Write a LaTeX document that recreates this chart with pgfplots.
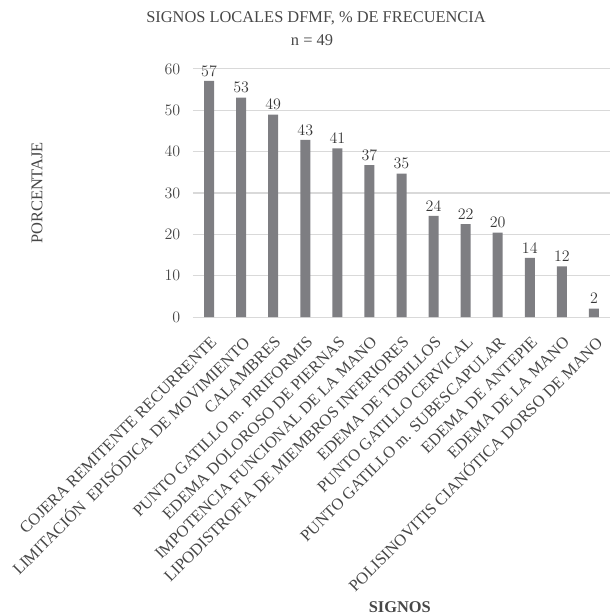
\documentclass[border=0pt]{standalone}
\usepackage{pgfplots}
\pgfplotsset{compat=1.18}
\usepackage{fontspec}
\setmainfont{Liberation Serif}
\definecolor{barcol}{RGB}{126,126,130}
\definecolor{gridcol}{RGB}{217,217,217}
\newcommand{\chartfont}{\fontsize{12.3}{14}\selectfont}
\begin{document}
\begin{tikzpicture}
% page = 609x616 px at 0.75pt/px, axis box south west at (0,0)
\path[use as bounding box] (-144.75pt,-224.25pt) rectangle (312pt,237.75pt);
\begin{axis}[
    at={(0pt,0pt)}, anchor=south west,
    scale only axis, width=312.75pt, height=186pt,
    ybar, bar width=7.5pt,
    xmin=-0.5, xmax=12.5, ymin=0, ymax=60,
    enlargelimits=false, clip=false,
    axis line style={draw=none},
    major tick length=0pt,
    ymajorgrids, grid style={gridcol, line width=0.75pt},
    ytick={0,10,...,60},
    xtick={0,...,12},
    xticklabels={
        COJERA REMITENTE RECURRENTE,
        LIMITACIÓN~ EPISÓDICA DE MOVIMIENTO,
        CALAMBRES,
        PUNTO GATILLO m. PIRIFORMIS,
        EDEMA DOLOROSO DE PIERNAS,
        IMPOTENCIA FUNCIONAL DE LA MANO,
        LIPODISTROFIA DE MIEMBROS INFERIORES,
        EDEMA DE TOBILLOS,
        PUNTO GATILLO CERVICAL,
        PUNTO GATILLO m. SUBESCAPULAR,
        EDEMA DE ANTEPIE,
        EDEMA DE LA MANO,
        POLISINOVITIS CIANÓTICA DORSO DE MANO},
    tick label style={font=\chartfont, color=black!72},
    yticklabel style={xshift=-6pt},
    xticklabel style={xshift=6pt, yshift=-14.5pt, rotate=45, anchor=east},
    xlabel={\bfseries SIGNOS},
    xlabel style={at={(axis description cs:0.496,-1.169)}, anchor=center,
        font=\chartfont, color=black!72},
    ylabel={PORCENTAJE},
    ylabel style={at={(axis description cs:-0.374,0.5)}, anchor=center,
        font=\chartfont, color=black!72},
    nodes near coords,
    nodes near coords style={font=\chartfont, color=black!78,
        /pgf/number format/fixed, /pgf/number format/precision=0},
    ]
\addplot[fill=barcol, draw=none] coordinates {
    (0,57.14) (1,53.06) (2,48.98) (3,42.86) (4,40.82) (5,36.73) (6,34.69)
    (7,24.49) (8,22.45) (9,20.41) (10,14.29) (11,12.24) (12,2.04)
};
\end{axis}
\node[font=\chartfont, color=black!72] at (92.25pt,224.25pt)
    {SIGNOS LOCALES DFMF, \% DE FRECUENCIA};
\node[font=\chartfont, color=black!72] at (89.25pt,207.75pt)
    {n = 49};
\end{tikzpicture}
\end{document}
